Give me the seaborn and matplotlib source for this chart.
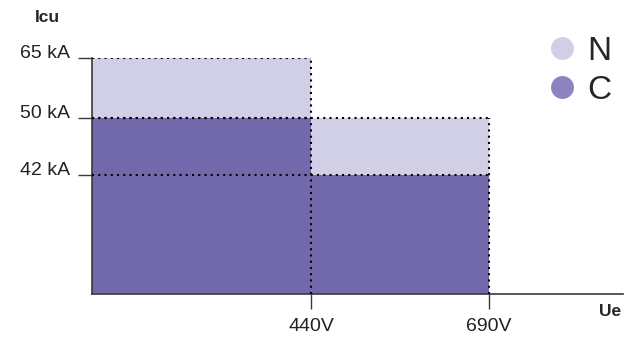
import numpy as np
import matplotlib
matplotlib.use("Agg")
import matplotlib.pyplot as plt
from matplotlib.lines import Line2D
import seaborn as sns

# data
voltages = [440, 690]            # Ue segment right edges (V)
icu_n = [65, 50]                 # N version breaking capacity (kA)
icu_c = [50, 42]                 # C version breaking capacity (kA)
y_ticks = [42, 50, 65]
y_labels = ["42 kA", "50 kA", "65 kA"]
x_labels = ["440V", "690V"]
series = ["N", "C"]

light = "#d0cfe6"
dark = "#7169ab"
legend_dark = "#8b84c1"
axis_col = "#3a3a3a"

# the chart is illustrative: axes are piecewise, not linear
y_src, y_dst = [0, 42, 50, 65], [0, 119, 176, 236]
x_src, x_dst = [0, 440, 690, 880], [0, 220, 398, 533]


def fwd_y(v):
    return np.interp(v, y_src, y_dst)


def inv_y(v):
    return np.interp(v, y_dst, y_src)


def fwd_x(v):
    return np.interp(v, x_src, x_dst)


def inv_x(v):
    return np.interp(v, x_dst, x_src)


sns.set_style("white")
plt.rcParams["font.family"] = ["Liberation Sans", "DejaVu Sans"]

edges = [0] + voltages
lefts = edges[:-1]
widths = np.diff(edges)

fig = plt.figure(figsize=(6.38, 3.38), dpi=100)
ax = fig.add_axes([92 / 638, 44 / 338, (623 - 92) / 638, (294 - 58) / 338])
ax.set_xscale("function", functions=(fwd_x, inv_x))
ax.set_yscale("function", functions=(fwd_y, inv_y))

ax.bar(lefts, icu_n, width=widths, align="edge", color=light, linewidth=0, zorder=1)
ax.bar(lefts, icu_c, width=widths, align="edge", color=dark, linewidth=0, zorder=2)

# dotted outlines
dot = dict(colors="black", linestyles=(0, (1, 2)), linewidth=1.5, zorder=3)
for i, right in enumerate(voltages):
    ax.hlines([icu_n[i], icu_c[i]], 0, right, **dot)
    ax.vlines(right, 0, icu_n[i], **dot)

ax.set_xlim(0, 880)
ax.set_ylim(0, 65)
ax.set_xlabel("")
ax.set_ylabel("")

ax.set_yticks(y_ticks)
ax.set_yticklabels(y_labels)
ax.set_xticks(voltages)
ax.set_xticklabels(x_labels)
ax.tick_params(axis="y", direction="out", length=10, width=1, color=axis_col,
               labelsize=14, pad=6, left=True)
ax.tick_params(axis="x", direction="out", length=11, width=1, color=axis_col,
               labelsize=14, pad=6, bottom=True)
for lab in ax.get_yticklabels():
    lab.set_va("baseline")
    lab.set_color("#222222")
for lab in ax.get_xticklabels():
    lab.set_color("#222222")

for s in ["top", "right"]:
    ax.spines[s].set_visible(False)
for s in ["left", "bottom"]:
    ax.spines[s].set_color(axis_col)
    ax.spines[s].set_linewidth(1.2)

fig.text(47 / 638, 1 - 18 / 338, "Icu", ha="center", va="center",
         fontsize=12.5, fontweight="bold")
fig.text(610 / 638, 1 - 312 / 338, "Ue", ha="center", va="center",
         fontsize=12.5, fontweight="bold")

handles = [Line2D([], [], marker="o", linestyle="", markersize=16.5,
                  markerfacecolor=c, markeredgecolor="none")
           for c in [light, legend_dark]]
fig.legend(handles, series, loc="upper left", bbox_to_anchor=(554 / 638, 1 - 36 / 338),
           frameon=False, fontsize=24, handletextpad=0.5, labelspacing=0.23,
           handlelength=0.5, borderaxespad=0, borderpad=0)

fig.savefig("out.png", dpi=100)
